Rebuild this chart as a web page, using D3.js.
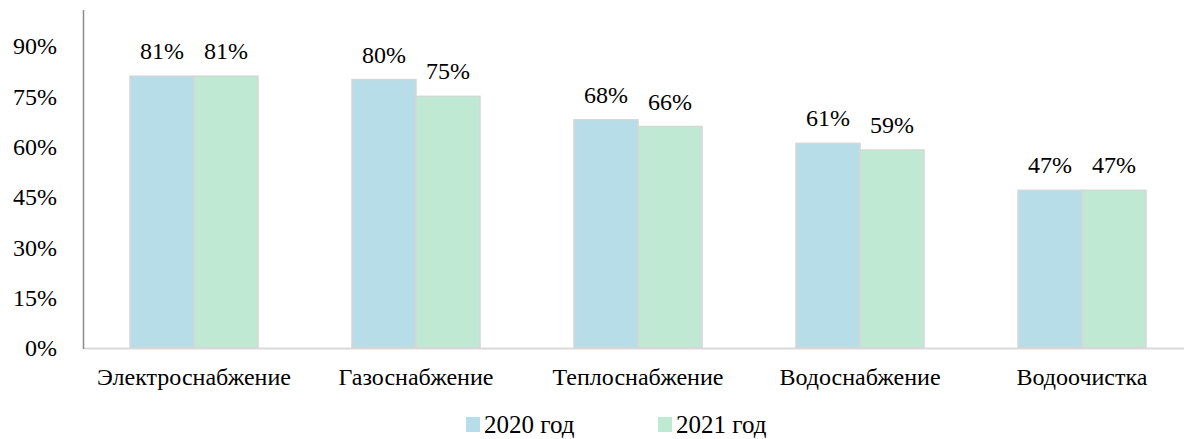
<!DOCTYPE html>
<html><head><meta charset="utf-8">
<script src="https://cdn.jsdelivr.net/npm/d3@7"></script>
<style>body{margin:0;background:#fff}svg{display:block}</style>
</head><body>
<svg id="c" width="1184" height="439" font-family="'Times New Roman', 'Liberation Serif', Tinos, 'DejaVu Serif', serif"></svg>
<script>
const categories = ["Электроснабжение","Газоснабжение","Теплоснабжение","Водоснабжение","Водоочистка"];
const seriesNames = ["2020 год","2021 год"];
const values2020 = [81,80,68,61,47];
const values2021 = [81,75,66,59,47];
const yTicks = [0,15,30,45,60,75,90];
const colors = ["#b7dde8","#c0e9d4"];
const FS = "24px";

const svg = d3.select("#c");
const x = d3.scaleBand().domain(categories).range([83,1193]).paddingInner(0.4234).paddingOuter(0.2117);
const x1 = d3.scaleBand().domain(seriesNames).range([0,x.bandwidth()]);
const y = d3.scaleLinear().domain([0,90]).range([348,46]);

svg.append("g").selectAll("text").data(yTicks).join("text")
  .attr("x",57).attr("y",d=>y(d)).attr("dy","0.35em").attr("text-anchor","end")
  .attr("font-size",FS).attr("fill","#000").text(d=>d+"%");

svg.append("line").attr("x1",83).attr("x2",1184).attr("y1",y(0)+0.5).attr("y2",y(0)+0.5)
  .attr("stroke","#d9d9d9").attr("stroke-width",2);

const data = categories.map((c,i)=>({c, vals:[values2020[i],values2021[i]]}));
const g = svg.append("g").selectAll("g").data(data).join("g").attr("transform",d=>`translate(${x(d.c)},0)`);
g.selectAll("rect").data(d=>d.vals.map((v,j)=>({v,s:seriesNames[j],j}))).join("rect")
  .attr("x",d=>x1(d.s)).attr("y",d=>y(d.v)).attr("width",x1.bandwidth()).attr("height",d=>y(0)-y(d.v))
  .attr("fill",d=>colors[d.j]).attr("stroke","#d6d6d6").attr("stroke-width",1.5);
g.selectAll("text").data(d=>d.vals.map((v,j)=>({v,s:seriesNames[j]}))).join("text")
  .attr("x",d=>x1(d.s)+x1.bandwidth()/2).attr("y",d=>y(d.v)-17).attr("text-anchor","middle")
  .attr("font-size",FS).attr("fill","#000").text(d=>d.v+"%");

svg.append("line").attr("x1",83.5).attr("x2",83.5).attr("y1",10).attr("y2",349)
  .attr("stroke","#8c8c8c").attr("stroke-width",1.5);

svg.append("g").selectAll("text").data(categories).join("text")
  .attr("x",d=>x(d)+x.bandwidth()/2).attr("y",385).attr("text-anchor","middle")
  .attr("font-size",FS).attr("fill","#000").text(d=>d);

const legX = [466,658];
const lg = svg.append("g").selectAll("g").data(seriesNames).join("g").attr("transform",(d,i)=>`translate(${legX[i]},417)`);
lg.append("rect").attr("width",14).attr("height",15).attr("fill",(d,i)=>colors[i]);
lg.append("text").attr("x",18).attr("y",16).attr("font-size","25px").attr("fill","#000").text(d=>d);
</script>
</body></html>
